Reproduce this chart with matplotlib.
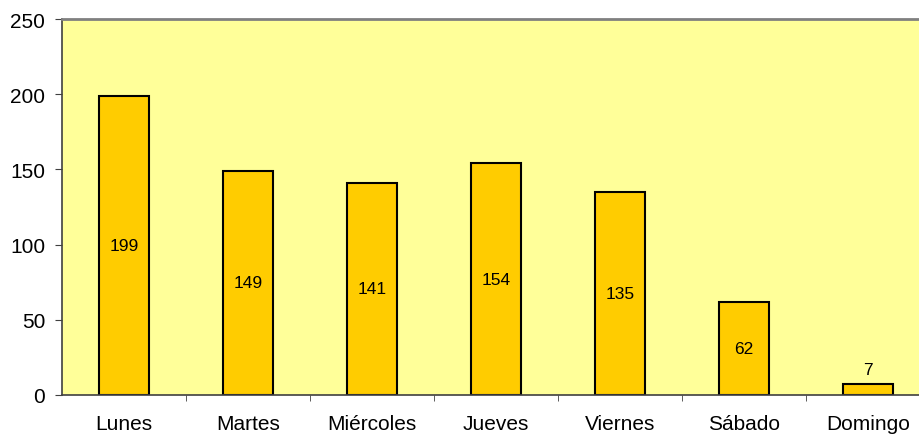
import matplotlib.pyplot as plt
import numpy as np

plt.rcParams['font.family'] = ['Liberation Sans', 'DejaVu Sans']

dias = ['Lunes', 'Martes', 'Miércoles', 'Jueves', 'Viernes', 'Sábado', 'Domingo']
valores = [199, 149, 141, 154, 135, 62, 7]

fig = plt.figure(figsize=(9.2, 4.39), dpi=100)
ax = fig.add_axes([62 / 920, 1 - 396 / 439, 1 - 62 / 920, 376 / 439])
ax.set_facecolor('#FFFF99')

x = np.arange(len(dias))
bars = ax.bar(x, valores, width=0.4, color='#FFCC00', edgecolor='black', linewidth=1.5, zorder=2)

# etiquetas de valor: dentro de la barra, o encima si es muy baja
for xi, v in zip(x, valores):
    if v < 20:
        ax.text(xi, v + 5, str(v), ha='center', va='bottom', fontsize=12.5)
    else:
        ax.text(xi, v / 2, str(v), ha='center', va='center', fontsize=12.5)

ax.set_xlim(-0.5, 6.42)
ax.set_ylim(0, 250)
ax.set_yticks(range(0, 251, 50))
ax.set_xticks(x)
ax.set_xticklabels(dias)
ax.set_xticks(x[:-1] + 0.5, minor=True)
ax.tick_params(axis='x', which='major', length=0, pad=14, labelsize=15)
ax.tick_params(axis='x', which='minor', length=4, color='#404040', direction='out')
ax.tick_params(axis='y', length=5, color='#404040', labelsize=15, pad=7)

ax.spines['right'].set_visible(False)
ax.spines['top'].set_color('#808080')
ax.spines['top'].set_linewidth(2)
ax.spines['left'].set_color('#404040')
ax.spines['bottom'].set_color('#404040')
ax.spines['left'].set_linewidth(1.2)
ax.spines['bottom'].set_linewidth(1.2)

fig.savefig('out.png', dpi=100)
